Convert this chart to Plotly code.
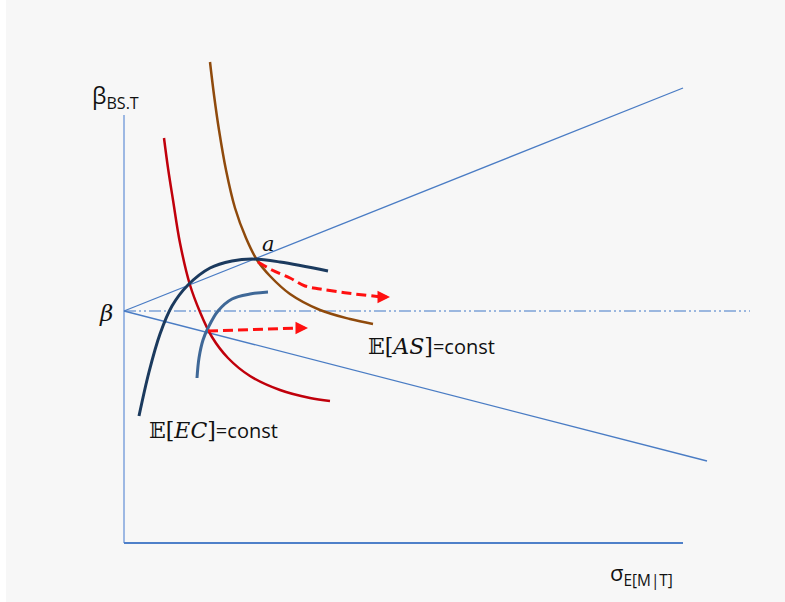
import plotly.graph_objects as go

# Coordinates: origin at the corner of the two axes, x to the right, y upward (px units)
X0, Y0 = 124, 543

def cx(p):
    return [v - X0 for v in p]

def cy(p):
    return [Y0 - v for v in p]

# Axes extents
y_axis_top = 428
x_axis_right = 559

# Reference level beta and the two rays through it
beta_level = 232
upper_ray_x = [0, 559]
upper_ray_y = [232, 455]
lower_ray_x = [0, 583]
lower_ray_y = [232, 82]
beta_line_x = [0, 626]

# E[EC]=const (red)
ec_x = cx([164, 168, 173, 180, 190, 200, 212, 228, 250, 280, 310, 330])
ec_y = cy([138, 168, 200, 243, 285, 312, 337, 358, 376, 390, 398, 401])

# E[AS]=const (brown)
as_x = cx([210, 214, 219, 226, 235, 246, 257, 270, 290, 320, 350, 373])
as_y = cy([62, 95, 130, 170, 208, 238, 260, 276, 294, 310, 319, 324])

# Upper (dark navy) curve
nv_x = cx([139, 149, 160, 172, 188, 210, 232, 252, 280, 328])
nv_y = cy([416, 372, 334, 306, 285, 268, 261, 259, 262, 271])

# Lower (steel blue) curve
sb_x = cx([197, 199, 203, 208, 218, 232, 250, 268])
sb_y = cy([378, 358, 340, 328, 311, 299, 294, 292])

# Red dashed shift arrows
arr1_x = cx([258, 272, 290, 305, 320, 347, 382])
arr1_y = cy([262, 270, 278, 286, 289, 293, 297])
arr2_x = cx([208, 260, 300])
arr2_y = cy([331, 329, 328])

fig = go.Figure()

def line(x, y, color, width, dash="solid", shape="linear"):
    fig.add_trace(go.Scatter(x=x, y=y, mode="lines",
                             line=dict(color=color, width=width, dash=dash, shape=shape),
                             hoverinfo="skip", showlegend=False))

# axes
line([0, 0], [0, y_axis_top], "#9db8e3", 2)
line([0, x_axis_right], [0, 0], "#4f80c9", 2)

# rays and beta level
line(beta_line_x, [beta_level, beta_level], "#7da2d8", 1.3, dash="12px,3px,2px,3px,2px,3px")
line(upper_ray_x, upper_ray_y, "#4a7cc4", 1.3)
line(lower_ray_x, lower_ray_y, "#4a7cc4", 1.3)

# curves
line(ec_x, ec_y, "#c0000b", 2.5, shape="spline")
line(as_x, as_y, "#8f4a0c", 2.5, shape="spline")
line(nv_x, nv_y, "#1b3a5e", 3, shape="spline")
line(sb_x, sb_y, "#3f6897", 3, shape="spline")

# dashed shift arrows
line(arr1_x, arr1_y, "#ff1010", 3, dash="10px,5px", shape="spline")
line(arr2_x, arr2_y, "#ff1010", 3, dash="10px,5px")

annotations = []
for xs, ys in ((arr1_x, arr1_y), (arr2_x, arr2_y)):
    annotations.append(dict(x=xs[-1] + 8, y=ys[-1], ax=xs[-1] - 2, ay=ys[-1],
                            xref="x", yref="y", axref="x", ayref="y",
                            text="", showarrow=True, arrowhead=2, arrowsize=1,
                            arrowwidth=2.5, arrowcolor="#ff1010"))

serif = "DejaVu Serif"
sans = "Open Sans"

def label(x, y, text, size, font=sans, xanchor="left"):
    annotations.append(dict(x=x, y=y, xref="x", yref="y", text=text, showarrow=False,
                            xanchor=xanchor, yanchor="middle",
                            font=dict(family=font, size=size, color="#111111")))

label(90 - X0, Y0 - 96, "β<sub>BS.T</sub>", 23)
label(97 - X0, Y0 - 313, "<i>β</i>", 23, font=serif)
label(260 - X0, Y0 - 244, "<i>a</i>", 21, font=serif)
label(608 - X0, Y0 - 574, "σ<sub>E[M|T]</sub>", 22)
label(366 - X0, Y0 - 346,
      "<span style='font-family:DejaVu Serif;font-size:22px'>𝔼[<i>AS</i>]</span>=const", 20)
label(147 - X0, Y0 - 430,
      "<span style='font-family:DejaVu Serif;font-size:22px'>𝔼[<i>EC</i>]</span>=const", 20)

fig.update_layout(
    width=785, height=602,
    margin=dict(l=0, r=0, t=0, b=0),
    paper_bgcolor="#f7f7f7", plot_bgcolor="#f7f7f7",
    xaxis=dict(range=[-X0, 785 - X0], visible=False, fixedrange=True),
    yaxis=dict(range=[Y0 - 602, Y0], visible=False, fixedrange=True),
    annotations=annotations,
    shapes=[dict(type="rect", xref="paper", yref="paper", x0=0, x1=6 / 785,
                 y0=0, y1=1, fillcolor="white", line=dict(width=0), layer="below")],
)

fig.write_html("out.html")
